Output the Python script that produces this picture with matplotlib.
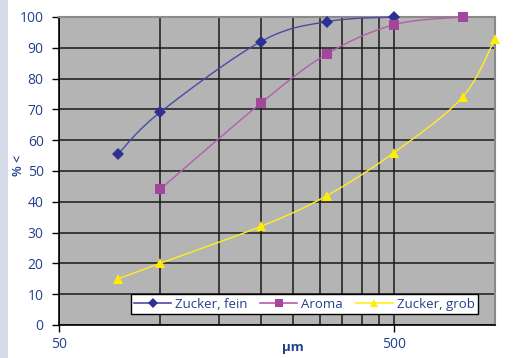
import numpy as np
import matplotlib
matplotlib.use("Agg")
import matplotlib.pyplot as plt
from matplotlib.patches import Rectangle

# ---- data ----
fein_x = [75, 100, 200, 315, 500]
fein_y = [55.5, 69, 92, 98.5, 100]
aroma_x = [100, 200, 315, 500, 800]
aroma_y = [44, 72, 88, 97.5, 100]
grob_x = [75, 100, 200, 315, 500, 800, 1000]
grob_y = [15, 20, 32, 42, 56, 74, 93]
series_names = ["Zucker, fein", "Aroma", "Zucker, grob"]
x_ticks = [50, 500]
x_grid = [50, 100, 150, 200, 250, 300, 350, 400, 450, 500]
y_ticks = list(range(0, 101, 10))

TXT = "#23408e"
plt.rcParams['font.family'] = ['Open Sans', 'DejaVu Sans']

fig = plt.figure(figsize=(5.13, 3.58), dpi=100)
fig.patch.set_facecolor("white")
fig.add_artist(Rectangle((0, 0), 8/513, 1, transform=fig.transFigure,
                         facecolor="#d5dbe9", edgecolor="none", zorder=0))

ax = fig.add_axes([59/513, 33/358, 436/513, 308/358])
ax.set_facecolor("#b4b4b4")
ax.set_xscale("log")
ax.set_xlim(50, 1000)
ax.set_ylim(0, 100)

for gx in x_grid:
    ax.axvline(gx, color="#1a1a1a", lw=1.1, zorder=1)
for gy in y_ticks:
    ax.axhline(gy, color="#1a1a1a", lw=1.1, zorder=1)


def smooth(xs, ys, n=30):
    lx = np.log10(xs)
    px = (lx - np.log10(50)) / (np.log10(1000) - np.log10(50))
    py = np.array(ys) / 100.0 * (308 / 436)
    P = np.column_stack([px, py])
    pts = []
    for i in range(len(P) - 1):
        p0 = P[i - 1] if i > 0 else P[i]
        p1 = P[i]
        p2 = P[i + 1]
        p3 = P[i + 2] if i + 2 < len(P) else P[i + 1]
        c1 = p1 + (p2 - p0) / 6
        c2 = p2 - (p3 - p1) / 6
        t = np.linspace(0, 1, n)[:, None]
        seg = ((1 - t) ** 3) * p1 + 3 * ((1 - t) ** 2) * t * c1 + 3 * (1 - t) * t ** 2 * c2 + t ** 3 * p2
        pts.append(seg)
    S = np.vstack(pts)
    sx = 10 ** (S[:, 0] * (np.log10(1000) - np.log10(50)) + np.log10(50))
    sy = S[:, 1] / (308 / 436) * 100
    return sx, sy


specs = [
    (fein_x, fein_y, "#2e3192", "#4a4aa8", "D", 6),
    (aroma_x, aroma_y, "#a3479c", "#b45cae", "s", 7),
    (grob_x, grob_y, "#ffee00", "#ffee22", "^", 7.5),
]
handles = []
for (xs, ys, mc, lc, mk, ms), name in zip(specs, series_names):
    sx, sy = smooth(xs, ys)
    ax.plot(sx, sy, color=lc, lw=1.0, zorder=3, clip_on=False)
    ax.plot(xs, ys, linestyle="none", marker=mk, color=mc, markersize=ms,
            markeredgewidth=0, zorder=4, clip_on=False)
    h, = ax.plot([], [], color=lc, lw=1.2, marker=mk, markersize=ms * 0.8,
                 markerfacecolor=mc, markeredgewidth=0, label=name)
    handles.append(h)

ax.set_xticks(x_ticks)
ax.set_xticklabels([str(v) for v in x_ticks])
ax.xaxis.set_minor_locator(matplotlib.ticker.NullLocator())
ax.set_yticks(y_ticks)
ax.tick_params(axis="both", colors="black", labelcolor=TXT, labelsize=10,
               direction="out", length=5, width=1)
ax.tick_params(axis="y", pad=6)
ax.tick_params(axis="x", pad=4)

for s in ["left", "bottom"]:
    ax.spines[s].set_color("black")
    ax.spines[s].set_linewidth(1.2)
for s in ["top", "right"]:
    ax.spines[s].set_color("#8a8a8a")
    ax.spines[s].set_linewidth(1.5)

fig.text(18/513, 1 - 165/358, "% <", rotation=90, color=TXT, fontsize=9,
         fontweight="semibold", ha="center", va="center")
fig.text(293/513, 1 - 347/358, "µm", color=TXT, fontsize=9.5,
         fontweight="bold", ha="center", va="center")

leg = ax.legend(handles=handles, loc="lower left",
                bbox_to_anchor=((131 - 59) / 436, (325 - 314) / 308, (478 - 131) / 436, 23 / 308),
                mode="expand", ncol=3, frameon=True, fancybox=False,
                fontsize=9.5, handlelength=2.8, handletextpad=0.3,
                borderpad=0.25, columnspacing=1.0, borderaxespad=0)
leg.get_frame().set_edgecolor("black")
leg.get_frame().set_linewidth(1.0)
leg.get_frame().set_facecolor("white")
leg.get_frame().set_alpha(1)
leg.set_zorder(6)
for t in leg.get_texts():
    t.set_color(TXT)

fig.savefig("out.png", dpi=100)
